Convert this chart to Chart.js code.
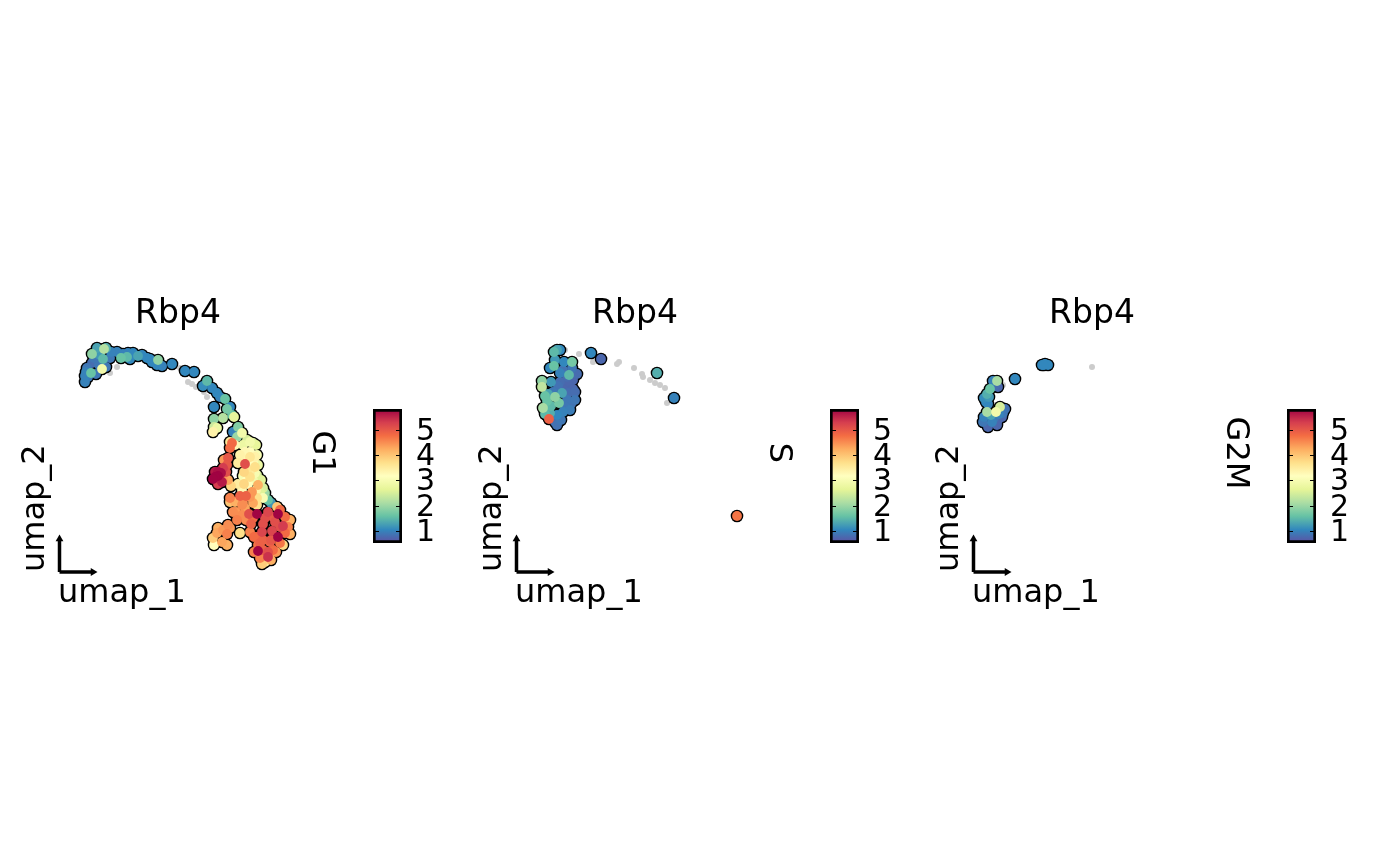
<!DOCTYPE html>
<html><head><meta charset="utf-8">
<script src="https://cdn.jsdelivr.net/npm/chart.js@4"></script>
<style>
html,body{margin:0;padding:0;background:#fff;width:1400px;height:866px;overflow:hidden}
canvas{position:absolute}
</style></head><body>
<script>
const FONT = "'DejaVu Sans'";
const geneName = "Rbp4";
const phases = ["G1","S","G2M"];
const tickValues = [1,2,3,4,5];
const exprMin = 0.526, exprMax = 5.82;
const spectral = ["#5E4FA2","#3288BD","#66C2A5","#ABDDA4","#E6F598","#FFFFBF","#FEE08B","#FDAE61","#F46D43","#D53E4F","#9E0142"];

// [umap_1, umap_2, expression]
const g1Cells = [
[46,223,2.2],[34,218,1.9],[45,213,1.5],[44,203,2.9],[33,199,1.6],[27,190,1.0],[39,224,1.3],[34,209,.8],[41,207,.9],[29,204,.9],
[30,195,.9],[27,196,1.0],[63,214,1.6],[69,215,1.5],[59,220,1.0],[70,219,1.0],[75,219,1.05],[80,216,1.3],[89,214,1.05],[94,210,1.05],
[100,212,1.9],[104,206,1.0],[114,208,1.05],[53,220,1.0],[42,217,1.2],[52,214,.9],[127,201,1.05],[136,200,1.05],[149,191,1.5],[145,186,1.1],
[154,184,1.05],[159,179,1.05],[162,175,1.0],[167,173,1.6],[156,165,1.05],[172,165,1.05],[169,163,1.7],[176,155,2.7],[165,154,2.2],[156,153,1.9],
[174,157,1.6],[155,140,3.4],[159,144,2.8],[156,145,2.4],[180,145,1.8],[184,139,2.9],[175,140,1.0],[189,132,2.5],[179,135,2.0],[172,130,3.6],
[174,129,4.8],[195,129,2.5],[172,124,4.8],[177,127,3.3],[185,127,2.8],[192,130,2.9],[170,114,5.0],[166,112,4.4],[165,104,5.3],[160,96,5.8],
[163,99,5.7],[157,95,5.8],[162,92,5.2],[169,107,5.0],[170,92,4.3],[165,92,4.4],[180,109,3.5],[187,108,5.1],[197,115,3.4],[192,120,3.2],
[195,109,3.1],[192,100,3.5],[197,99,3.0],[189,92,3.2],[200,87,4.2],[184,82,3.3],[195,92,2.9],[173,86,3.8],[172,74,4.6],[182,76,4.9],
[188,76,4.9],[194,80,4.4],[192,75,4.4],[199,74,3.7],[205,74,3.0],[202,80,2.6],[207,79,2.0],[210,72,1.6],[177,70,4.2],[185,69,4.5],
[195,69,4.3],[199,58,5.8],[220,58,5.8],[191,58,5.1],[193,48,4.9],[204,40,5.2],[214,41,5.2],[220,35,5.8],[225,46,5.3],[200,21,5.8],
[210,15,5.4],[210,20,5.1],[182,39,3.7],[210,60,5.2],[207,54,5.1],[217,50,5.1],[227,55,4.8],[227,39,4.8],[213,32,5.0],[202,29,4.9],
[205,32,4.9],[215,22,4.8],[202,14,4.6],[200,27,4.7],[199,35,4.8],[222,29,4.7],[230,45,4.6],[192,40,4.6],[184,67,4.5],[175,60,4.5],
[184,57,4.5],[179,52,4.6],[170,47,4.5],[169,38,4.6],[159,39,4.3],[155,34,3.9],[164,30,4.3],[172,44,4.4],[160,44,4.2],[187,64,4.3],
[172,70,4.0],[199,67,3.7],[219,65,4.0],[198,127,2.7],[199,117,3.0],[200,107,2.8],[199,97,2.5],[205,84,2.5],[213,69,1.2],[156,27,3.2],
[207,10,3.6],[225,27,3.8],[169,27,4.2],
[182,117,3.4],[187,120,3.3],[189,102,3.6],[185,96,3.0],[192,110,3.2],[186,114,3.3],
[178,60,4.4],[165,42,4.4],[188,52,4.5],[195,54,4.8],[205,48,5.1],[215,55,5.0],[222,45,5.1],[212,30,4.9],[218,20,4.4],[205,22,4.9],
[196,20,4.6],[204,8,3.9],[213,12,4.2],[232,38,4.2],[232,52,4.2],[196,35,4.8],[222,62,4.8],[190,88,3.2],[203,92,2.6],[180,88,3.5],[198,82,3.4],
[155,93,5.8],[160,100,5.7],[164,90,5.6],[157,100,5.6],[168,100,5.1],[160,88,5.3],
[65,218,1.0],[72,213,1.05],[84,217,1.05],[92,213,1.05],[99,207,1.05],[36,214,.9],[48,205,.9],[28,200,1.0],[48,224,1.4],[38,198,.9],
[192,115,3.6],[197,105,3.7],[186,100,3.8],[192,95,3.7],[186,88,3.8]
];
const g1Other = [[59,205],[52,199],[130,190],[138,185],[122,204],[149,175],[142,184],[134,188],[146,180]];

const sCells = [
[39,220,1.5],[45,222,1.05],[39,206,1.6],[35,204,1.05],[49,210,1.05],[57,210,1.7],[54,197,1.5],[45,199,1.0],[57,204,.9],[58,192,.75],
[50,190,.75],[53,187,.75],[36,190,1.2],[27,191,1.9],[27,185,2.3],[40,175,1.9],[32,171,1.6],[47,179,1.3],[44,169,1.7],[28,164,2.1],
[52,172,.9],[38,180,.9],[35,159,1.4],[48,160,1.0],[42,157,1.05],[55,162,.95],[34,153,4.9],[40,150,.8],[53,179,.8],[60,172,.9],
[33,156,.9],[76,219,1.05],[86,213,.75],[142,199,1.4],[159,174,1.0],[222,56,4.7],
[48,202,.85],[52,195,.8],[62,198,.8],[45,190,.8],[58,183,.75],[48,183,.75],[43,186,.85],[33,178,1.3],[30,176,1.6],[36,166,1.5],
[30,158,1.5],[50,166,.9],[46,152,.9],[56,168,.85],[42,147,.85],[60,180,.8],[42,222,1.3],[40,212,1.2]
];
const sOther = [[50,222],[64,218],[78,210],[104,210],[102,208],[119,204],[127,198],[128,195],[135,192],[140,189],[145,187],[150,184],[152,169]];

const g2mCells = [
[73,208,1.05],[70,207,1.05],[76,207,1.05],[43,193,1.05],[25,191,2.1],[21,191,1.0],[26,185,.75],[18,183,1.6],[15,178,1.4],[14,170,1.05],
[28,165,2.5],[24,160,2.9],[15,160,2.1],[19,157,1.3],[30,155,.75],[26,152,.75],[11,150,.9],[20,150,1.0],[16,145,.75],[31,159,.9],
[72,207,1.05],[23,186,.8],[17,175,1.2],[12,174,1.1],[16,168,1.0],[27,158,1.0],[33,163,.85],[25,147,.75],[12,155,1.0],[22,154,.9]
];
const g2mOther = [[120,205],[31,187]];

const panelCells = [g1Cells, sCells, g2mCells];
const panelOther = [g1Other, sOther, g2mOther];

function hex(c){return [1,3,5].map(i=>parseInt(c.substr(i,2),16));}
function colorFor(v){
  let t=(v-exprMin)/(exprMax-exprMin); t=Math.max(0,Math.min(1,t));
  const p=t*(spectral.length-1), i=Math.min(Math.floor(p),spectral.length-2), f=p-i;
  const a=hex(spectral[i]), b=hex(spectral[i+1]);
  return `rgb(${a.map((x,k)=>Math.round(x+(b[k]-x)*f)).join(",")})`;
}
function makeCanvas(left,top,w,h){
  const c=document.createElement("canvas");
  c.width=w;c.height=h;c.style.left=left+"px";c.style.top=top+"px";c.style.width=w+"px";c.style.height=h+"px";
  document.body.appendChild(c);return c;
}
const xy=a=>({x:a[0],y:a[1]});

phases.forEach((phase,idx)=>{
  const off=idx*457;
  const cells=[...panelCells[idx]].sort((a,b)=>a[2]-b[2]);
  new Chart(makeCanvas(off,290,298,323),{
    type:"scatter",
    data:{datasets:[
      {label:"cells",data:cells.map(xy),order:1,clip:false,
       pointRadius:4.9,borderWidth:0,hoverRadius:4.9,
       pointBackgroundColor:cells.map(c=>colorFor(c[2]))},
      {label:"outline",data:cells.map(xy),order:2,clip:false,
       pointRadius:6.3,borderWidth:0,pointBackgroundColor:"#000"},
      {label:"other",data:panelOther[idx].map(xy),order:3,
       pointRadius:3,borderWidth:0,pointBackgroundColor:"#CCCCCC"},
      {label:"axis1",data:[{x:1.5,y:0},{x:35,y:0}],showLine:true,order:0,clip:false,
       borderColor:"#000",borderWidth:3.5,pointStyle:"triangle",rotation:90,
       pointRadius:[0,4.5],pointBackgroundColor:"#000",pointBorderWidth:0},
      {label:"axis2",data:[{x:1.5,y:0},{x:1.5,y:33}],showLine:true,order:0,clip:false,
       borderColor:"#000",borderWidth:3.5,pointStyle:"triangle",rotation:0,
       pointRadius:[0,4.5],pointBackgroundColor:"#000",pointBorderWidth:0}
    ]},
    options:{
      responsive:false,animation:false,devicePixelRatio:1,
      layout:{padding:0,autoPadding:false},
      plugins:{
        legend:{display:false},tooltip:{enabled:false},
        title:{display:true,text:geneName,fullSize:false,color:"#000",
          font:{family:FONT,size:33,weight:"normal",lineHeight:1.2},padding:{top:5,bottom:0.4}}
      },
      scales:{
        x:{type:"linear",min:0,max:240,border:{display:false},grid:{display:false},ticks:{display:false},
           afterFit:s=>{s.height=41;s.paddingLeft=0;s.paddingRight=0;},
           title:{display:true,text:"umap_1",align:"start",color:"#000",
             font:{family:FONT,size:32,weight:"normal",lineHeight:1.2},padding:{top:0,bottom:0}}},
        y:{type:"linear",min:0,max:237,border:{display:false},grid:{display:false},ticks:{display:false},
           afterFit:s=>{s.width=58;s.paddingTop=0;s.paddingBottom=0;},
           title:{display:true,text:"umap_2",align:"start",color:"#000",
             font:{family:FONT,size:32,weight:"normal",lineHeight:1.2},padding:{top:16,bottom:0}}}
      }
    }
  });

  new Chart(makeCanvas(off+295,400,155,152),{
    type:"bar",
    data:{labels:[phase],datasets:[{
      data:[[exprMin,exprMax]],
      barPercentage:1,categoryPercentage:1,
      borderColor:"#000",borderWidth:3,borderSkipped:false,
      backgroundColor:(ctx)=>{
        const ca=ctx.chart.chartArea; if(!ca) return "#fff";
        const g=ctx.chart.ctx.createLinearGradient(0,ca.bottom,0,ca.top);
        spectral.forEach((c,i)=>g.addColorStop(i/(spectral.length-1),c));
        return g;
      }
    }]},
    options:{
      responsive:false,animation:false,devicePixelRatio:1,
      layout:{padding:{top:9,bottom:9,left:78}},
      plugins:{legend:{display:false},tooltip:{enabled:false}},
      scales:{
        x:{display:false,offset:true},
        y:{type:"linear",position:"right",min:exprMin,max:exprMax,
           border:{display:false},grid:{display:false,drawTicks:false},
           afterBuildTicks:s=>{s.ticks=tickValues.map(v=>({value:v}));},
           afterFit:s=>{s.width=48;s.paddingTop=0;s.paddingBottom=0;},
           ticks:{autoSkip:false,color:"#000",padding:14,maxRotation:0,
             font:{family:FONT,size:30,lineHeight:0.15},callback:v=>["",String(v)]}}
      }
    },
    plugins:[{
      id:"barDecor",
      afterDatasetsDraw(chart){
        const {ctx,chartArea:ca,scales:{y}}=chart;
        ctx.save();ctx.strokeStyle="#000";ctx.lineWidth=1;
        tickValues.forEach(v=>{
          const p=Math.round(y.getPixelForValue(v))+.5;
          ctx.beginPath();
          ctx.moveTo(ca.left,p);ctx.lineTo(ca.left+6,p);
          ctx.moveTo(ca.right-6,p);ctx.lineTo(ca.right,p);
          ctx.stroke();
        });
        ctx.fillStyle="#000";ctx.font=`32px ${FONT}`;ctx.textAlign="center";ctx.textBaseline="middle";
        ctx.translate(26,53);ctx.rotate(Math.PI/2);
        ctx.fillText(phase,0,0);
        ctx.restore();
      }
    }]
  });
});
</script>
</body></html>
